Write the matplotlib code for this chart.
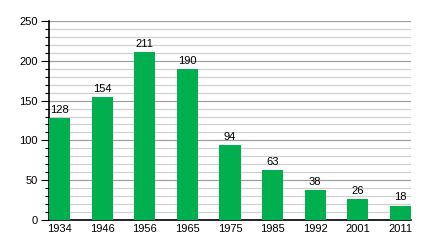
import matplotlib
matplotlib.use("Agg")
import matplotlib.pyplot as plt
from matplotlib.ticker import MultipleLocator

years = ["1934", "1946", "1956", "1965", "1975", "1985", "1992", "2001", "2011"]
values = [128, 154, 211, 190, 94, 63, 38, 26, 18]

plt.rcParams['font.family'] = ['Liberation Sans', 'DejaVu Sans']

fig = plt.figure(figsize=(4.4, 2.4), dpi=100)
ax = fig.add_axes([49/440, 1-220/240, (411-49)/440, (220-21)/240])

x = list(range(len(years)))
ax.bar(x, values, width=0.5, color="#00B04F", zorder=3)
for xi, v in zip(x, values):
    ax.text(xi, v + 4, str(v), ha="center", va="bottom", fontsize=8, color="black", zorder=4)

ax.set_xlim(-0.25, len(years) - 0.75)
ax.set_ylim(0, 250)
ax.set_xticks(x)
ax.set_xticklabels(years, fontsize=8)
ax.tick_params(axis="x", length=0, pad=3)
ax.yaxis.set_major_locator(MultipleLocator(50))
ax.yaxis.set_minor_locator(MultipleLocator(10))
ax.tick_params(axis="y", which="major", length=6, width=0.8, labelsize=8, pad=2)
ax.tick_params(axis="y", which="minor", length=3, width=0.8)
ax.grid(axis="y", which="major", color="#a0a0a0", linewidth=0.9, zorder=0)
ax.grid(axis="y", which="minor", color="#d0d0d0", linewidth=0.9, zorder=0)
ax.set_axisbelow(True)
for s in ["top", "right"]:
    ax.spines[s].set_visible(False)
ax.spines["left"].set_linewidth(1.2)
ax.spines["bottom"].set_linewidth(1.2)

fig.savefig("out.png", dpi=100)
